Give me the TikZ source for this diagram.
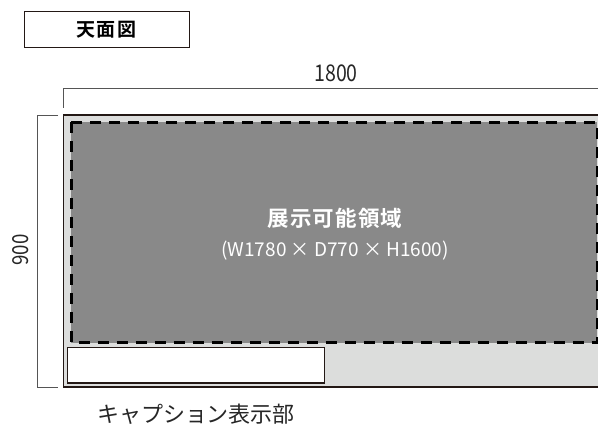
\documentclass[tikz,border=0pt]{standalone}
\usepackage{fontspec}
\setmainfont{Noto Sans CJK JP}
\newfontfamily\jpbold[LetterSpace=5]{Noto Sans CJK JP Bold}
\newfontfamily\jptitle[LetterSpace=6]{Noto Sans CJK JP Bold}
\newfontfamily\jpcap{Noto Sans CJK JP}
\definecolor{darkfill}{HTML}{898989}
\definecolor{lightfill}{HTML}{DCDDDC}
\definecolor{edge}{HTML}{231815}
\definecolor{dimline}{HTML}{555555}
\tikzset{
  dimstyle/.style={draw=dimline, line width=0.9pt},
  labelstyle/.style={inner sep=0pt, text=black!85},
}
\begin{document}
\begin{tikzpicture}[x=1pt,y=-1pt]
\useasboundingbox (0,0) rectangle (598,427);
% title box
\node[draw=edge, line width=1pt, minimum width=165pt, minimum height=36pt, inner sep=0pt] (title) at (106.5,30)
  {\fontsize{19pt}{19pt}\jptitle 天面図\hspace{-1.1pt}};
% outer table top
\coordinate (otl) at (63.5,115);
\coordinate (obr) at (600,387);
\fill[lightfill] (otl) rectangle (obr);
\draw[edge, line width=1.4pt] (600,115) -- (otl) -- (63.5,387) -- (600,387);
% exhibition area
\coordinate (dtl) at (71,122.5);
\coordinate (dbr) at (597,343);
\fill[darkfill] (dtl) rectangle (dbr);
\draw[black, line width=3pt, dash pattern=on 11pt off 8pt] (dtl) rectangle (dbr);
% caption box
\draw[edge, line width=1.5pt, fill=white] (67.5,347.5) rectangle (324.5,383) node[pos=0.5, inner sep=0pt] (capbox) {};
% labels inside
\node[inner sep=0pt, text=white] (area) at (335,218.5) {\fontsize{21.5pt}{21.5pt}\jpbold 展示可能領域\hspace{-1.1pt}};
\node[inner sep=0pt, text=white] (size) at (335,251) {\fontsize{19pt}{19pt}\selectfont (W1780 × D770 × H1600)};
% caption label
\node[labelstyle] (cap) at (196,414) {\fontsize{22pt}{22pt}\jpcap キャプション表示部};
% top dimension
\coordinate (tdl) at (63.5,88);
\coordinate (tdr) at (600,88);
\coordinate (tdt) at (63.5,108);
\draw[dimstyle] (tdt) -- (tdl) -- (tdr);
\node[labelstyle] (w) at (336,73) {\scalebox{0.85}[1]{\fontsize{23pt}{23pt}\selectfont 1800}};
% left dimension
\coordinate (lt) at (58,115);
\coordinate (lb) at (58,387);
\draw[dimstyle] (lt) -- (37,115) -- (37,387) -- (lb);
\node[labelstyle, rotate=90] (d) at (21,250) {\scalebox{0.85}[1]{\fontsize{22pt}{22pt}\selectfont 900}};
\end{tikzpicture}
\end{document}
